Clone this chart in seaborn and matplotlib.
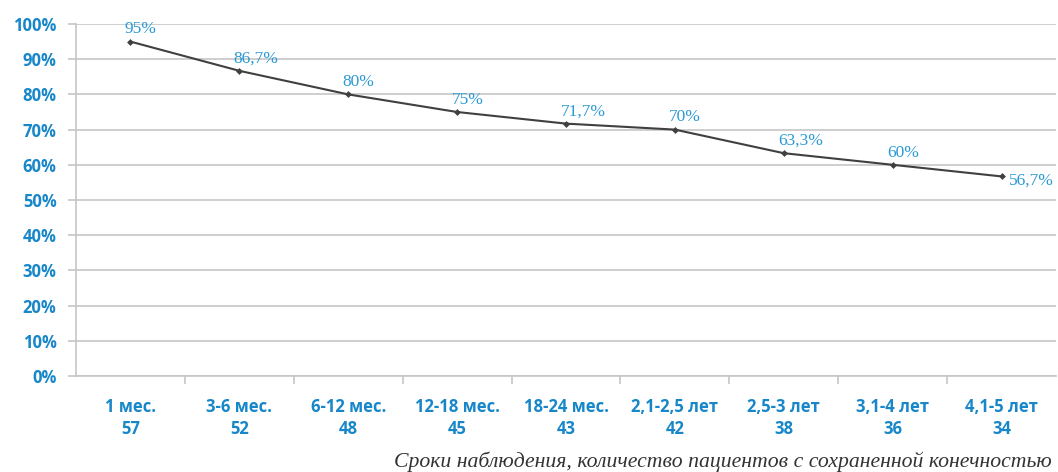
import matplotlib
matplotlib.use("Agg")
import matplotlib.pyplot as plt
from matplotlib.ticker import FixedLocator, PercentFormatter
import seaborn as sns
import pandas as pd

# Observation periods and number of patients with a preserved limb
periods = ["1 мес.", "3-6 мес.", "6-12 мес.", "12-18 мес.", "18-24 мес.",
           "2,1-2,5 лет", "2,5-3 лет", "3,1-4 лет", "4,1-5 лет"]
patients = [57, 52, 48, 45, 43, 42, 38, 36, 34]
# Limb preservation rate, %
preserved = [95, 86.7, 80, 75, 71.7, 70, 63.3, 60, 56.7]
value_labels = ["95%", "86,7%", "80%", "75%", "71,7%", "70%", "63,3%", "60%", "56,7%"]
y_ticks = [0, 10, 20, 30, 40, 50, 60, 70, 80, 90, 100]
caption = "Сроки наблюдения, количество пациентов с сохраненной конечностью"

sns.set_theme(style="white")
plt.rcParams["font.family"] = ["Open Sans", "DejaVu Sans"]

BLUE_BOLD = "#1787C9"
BLUE_LABEL = "#2A9AD5"
GRID = "#C6C6C6"

df = pd.DataFrame({"pos": range(len(periods)), "rate": preserved})

fig = plt.figure(figsize=(10.58, 4.72), dpi=100)
ax = fig.add_axes([76 / 1058, 1 - 376 / 472, 980 / 1058, 352 / 472])

sns.lineplot(data=df, x="pos", y="rate", ax=ax, color="#404040", linewidth=1.5,
             marker="D", markersize=3.5, markeredgewidth=0, markerfacecolor="#404040")

ax.set_xlim(-0.5, len(periods) - 0.5)
ax.set_ylim(0, 100)
ax.yaxis.set_major_locator(FixedLocator(y_ticks))
ax.yaxis.set_major_formatter(PercentFormatter(decimals=0))
ax.grid(axis="y", color=GRID, linewidth=1.2)
ax.set_axisbelow(True)

for side in ["top", "right"]:
    ax.spines[side].set_visible(False)
for side in ["left", "bottom"]:
    ax.spines[side].set_color(GRID)
    ax.spines[side].set_linewidth(1.2)

ax.set_xticks(range(len(periods)))
ax.set_xticklabels([f"{p}\n{n}" for p, n in zip(periods, patients)],
                   linespacing=1.25)
ax.set_xticks([i + 0.5 for i in range(len(periods) - 1)], minor=True)
ax.tick_params(axis="x", which="major", length=0, pad=16,
               labelsize=12, labelcolor=BLUE_BOLD)
ax.tick_params(axis="x", which="minor", length=6, width=1.2, color=GRID,
               direction="out", bottom=True)
ax.tick_params(axis="y", length=6, width=1.2, color=GRID, left=True,
               labelsize=12, labelcolor=BLUE_BOLD, pad=8)
for lab in ax.get_xticklabels() + ax.get_yticklabels():
    lab.set_fontweight("bold")

ax.set_xlabel("")
ax.set_ylabel("")

serif = ["Liberation Serif", "DejaVu Serif"]
last = len(preserved) - 1
for i, (v, txt) in enumerate(zip(preserved, value_labels)):
    if i == last:
        ax.annotate(txt, (i, v), xytext=(5, -3), textcoords="offset points",
                    ha="left", va="center", fontsize=12.5, color=BLUE_LABEL,
                    family=serif)
    else:
        ax.annotate(txt, (i, v), xytext=(-4, 3), textcoords="offset points",
                    ha="left", va="bottom", fontsize=12.5, color=BLUE_LABEL,
                    family=serif)

fig.text(1052 / 1058, 5 / 472, caption, ha="right", va="baseline",
         fontsize=15.7, style="italic", color="#333333", family=serif)

fig.savefig("out.png", dpi=100, facecolor="white")
